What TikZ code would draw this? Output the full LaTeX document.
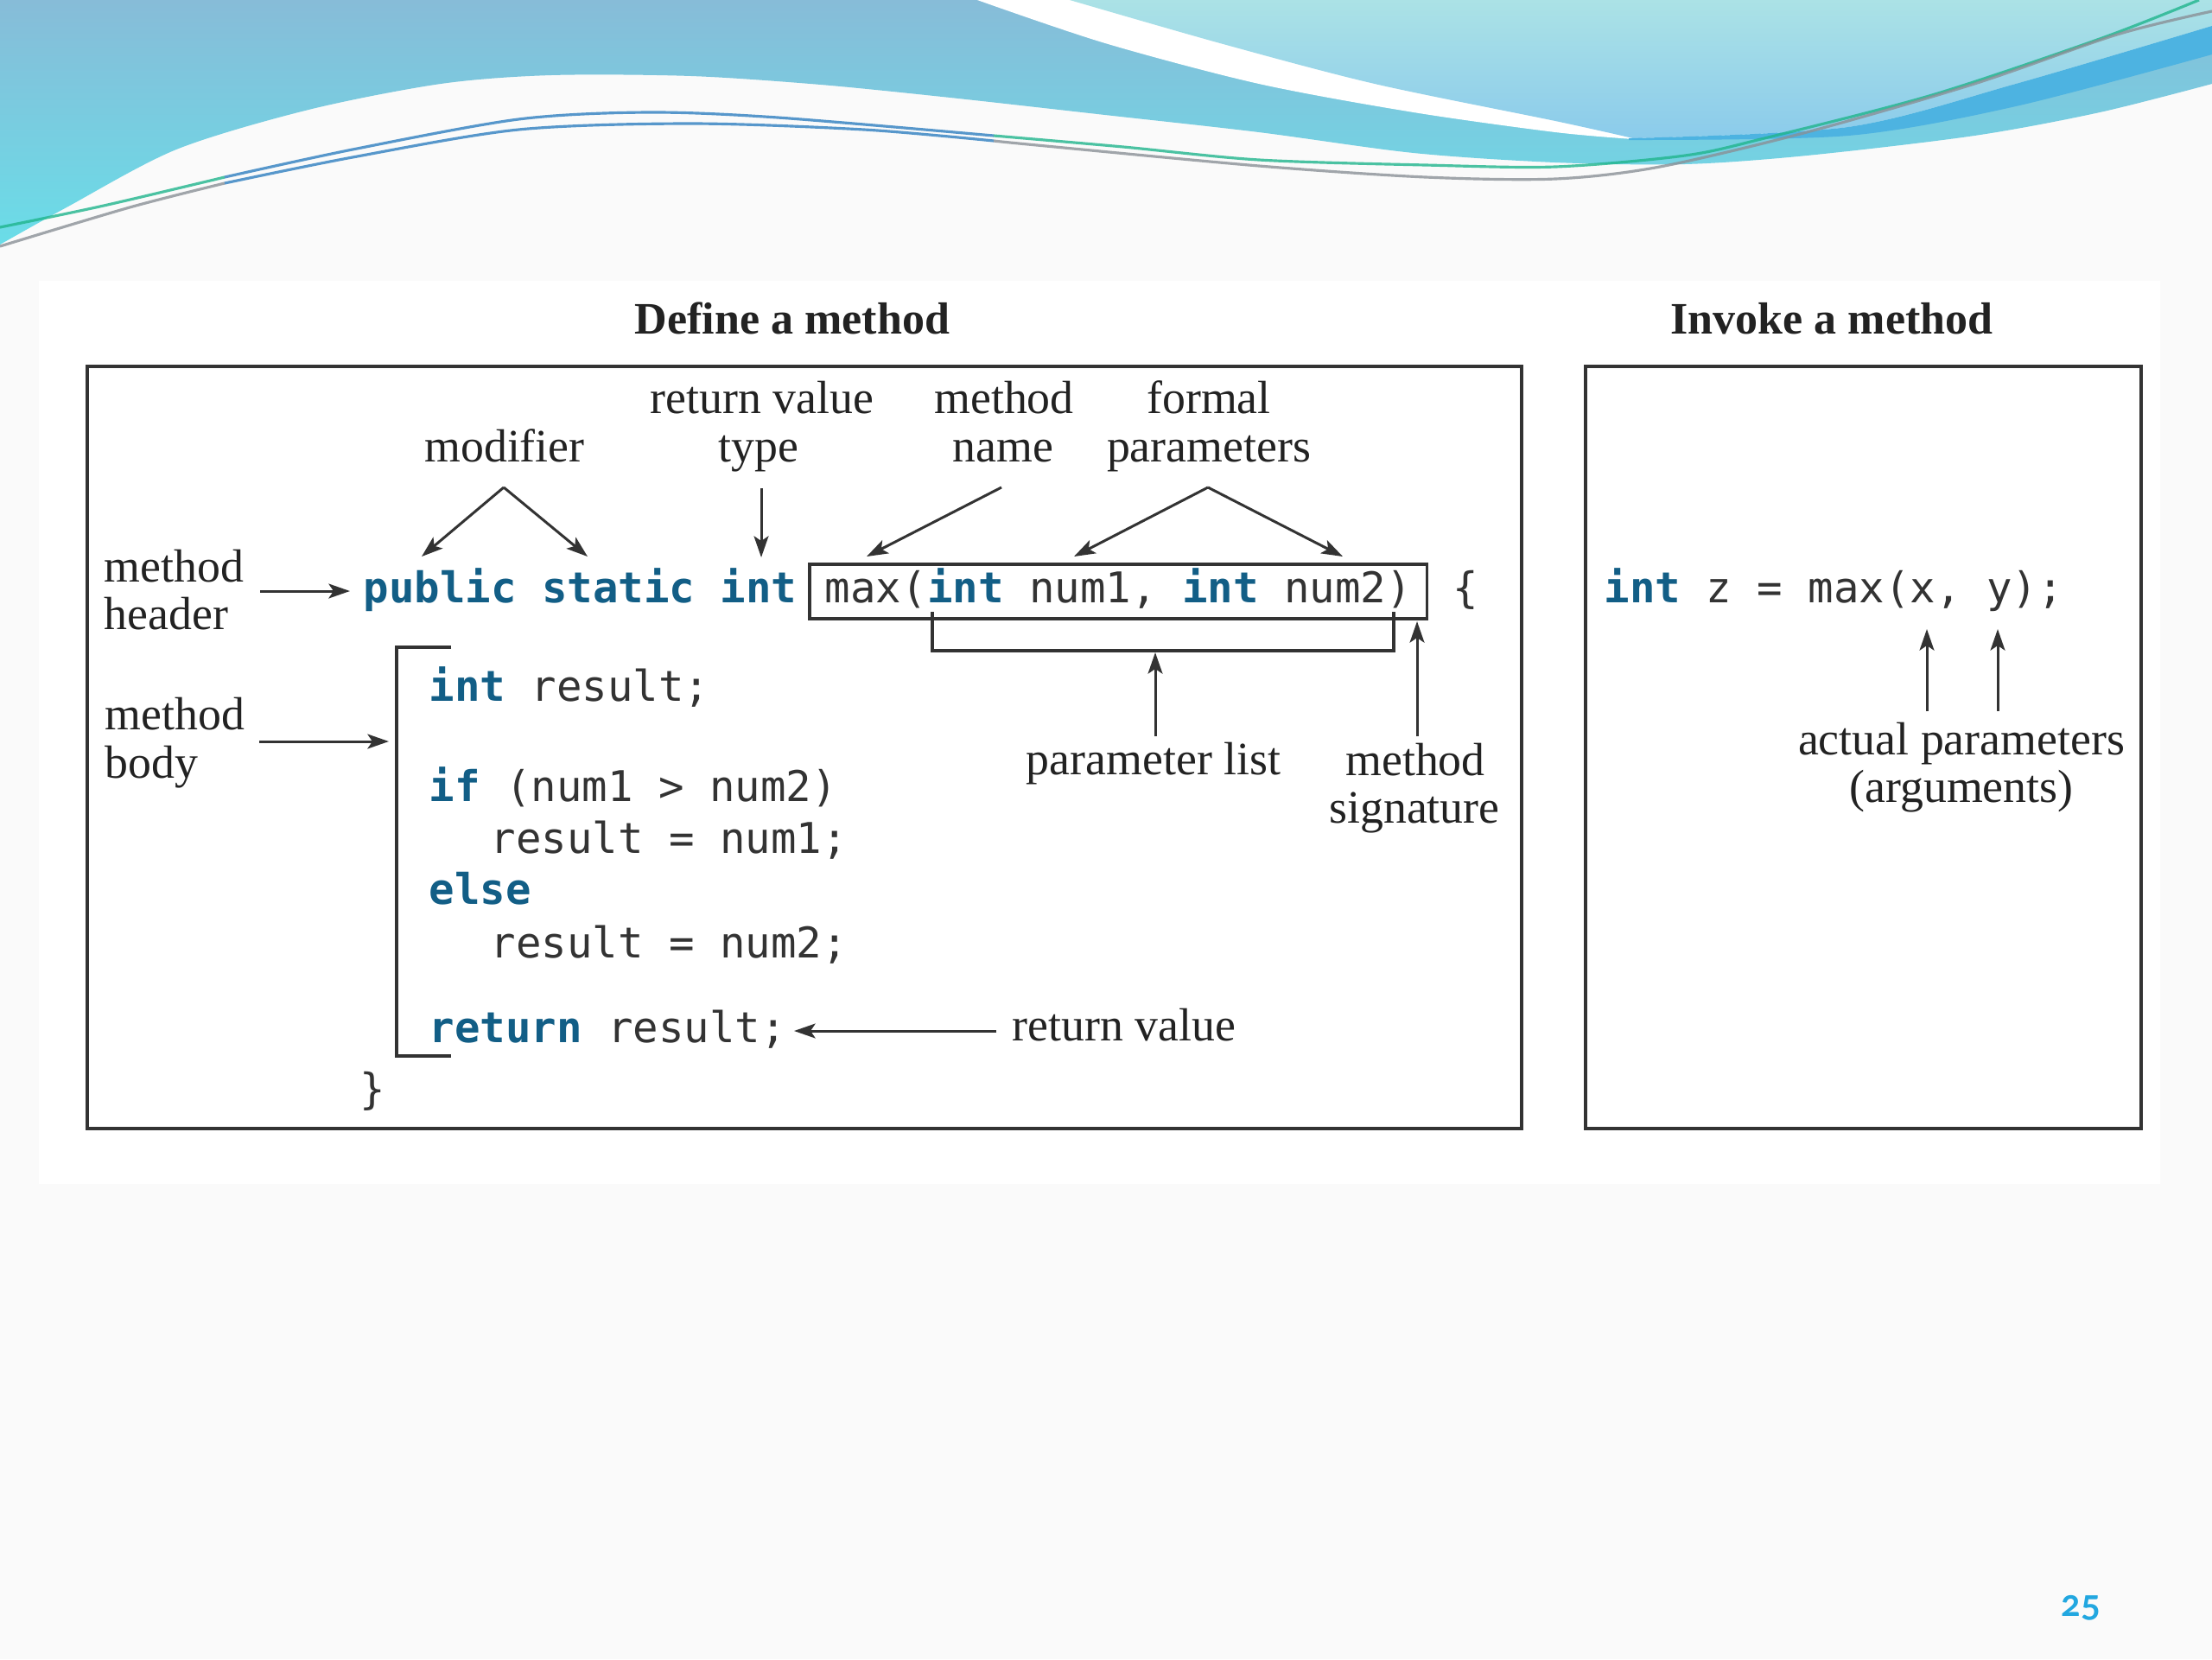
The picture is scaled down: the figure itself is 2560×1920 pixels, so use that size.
\documentclass[tikz,border=0pt]{standalone}
\usepackage{fontspec}
\setmainfont{Liberation Serif}
\newfontfamily\codefont{DejaVu Sans Mono}
\newfontfamily\numfont[Numbers=OldStyle]{Lato}
\usetikzlibrary{arrows.meta}
\definecolor{kw}{HTML}{125E86}
\definecolor{codec}{HTML}{333333}
\definecolor{labelc}{HTML}{222222}
\definecolor{boxc}{HTML}{333333}
\definecolor{bgc}{HTML}{FAFAFA}
\definecolor{tealtop}{HTML}{87BCD8}
\definecolor{tealbot}{HTML}{6ADDE8}
\definecolor{lighttop}{HTML}{ABE2E6}
\definecolor{lightbot}{HTML}{8BCBEB}
\definecolor{bandc}{HTML}{4DB3E1}
\definecolor{lineblue}{HTML}{2F7FC0}
\definecolor{linegreen}{HTML}{20B58C}
\definecolor{linegray}{HTML}{8A9096}
\definecolor{pagenum}{HTML}{22A7E0}
\newcommand\kwtext[1]{\textcolor{kw}{\bfseries #1}}
\begin{document}
\begin{tikzpicture}[x=0.01cm,y=-0.01cm,
  lbl/.style={font=\fontsize{15.3pt}{16pt}\selectfont, text=labelc, inner sep=0pt, anchor=base},
  lblw/.style={lbl, anchor=base west},
  ttl/.style={font=\fontsize{14.8pt}{16pt}\selectfont\bfseries, text=labelc, inner sep=0pt, anchor=base},
  codetext/.style={font=\codefont\fontsize{13.94pt}{15pt}\selectfont, text=codec, inner sep=0pt, anchor=base west},
  arr/.style={draw=boxc, line width=0.85pt, -{Stealth[length=7pt,width=4.8pt,inset=1.6pt]}},
  brk/.style={draw=boxc, line width=0.9pt},
  panelbox/.style={draw=boxc, line width=1.1pt},
  thin/.style={line width=0.9pt, opacity=0.8}
]
\useasboundingbox (0,0) rectangle (2560,1920);
% page background
\fill[bgc] (0,0) rectangle (2560,1920);
\fill[white] (45,325) rectangle (2500,1370);
% top decoration
\shade[top color=tealtop, bottom color=tealbot]
  (0,0) -- (2560,0) -- plot[smooth] coordinates {(2560,97) (2430,130) (2285,157) (2091,180) (1950,190) (1800,188) (1636,177) (1457,153) (1279,133) (1100,113) (950,98) (800,88) (638,87) (510,97) (357,127) (204,173) (77,240) (0,283)} -- cycle;
\fill[white] (1131,0) -- plot[smooth] coordinates {(1131,0) (1279,50) (1457,97) (1636,130) (1800,153) (1890,161)}
  -- plot[smooth] coordinates {(1890,161) (2139,147) (2333,97) (2560,30)} -- (2560,0) -- cycle;
\shade[top color=lighttop, bottom color=lightbot] (1238,0) -- plot[smooth] coordinates {(1238,0) (1412,50) (1591,97) (1800,140) (1890,160)}
  -- plot[smooth] coordinates {(1890,160) (2139,147) (2333,97) (2560,30)} -- (2560,0) -- cycle;
\fill[bandc] plot[smooth] coordinates {(1885,160) (2139,147) (2333,97) (2560,30)} -- (2560,63)
  -- plot[smooth] coordinates {(2560,63) (2333,123) (2139,157) (1885,162)} -- cycle;
% thin swoosh lines
\draw[thin, linegreen] plot[smooth] coordinates {(0,263) (120,238) (260,205)};
\draw[thin, lineblue] plot[smooth] coordinates {(260,205) (408,173) (600,138) (750,130) (900,136) (1150,157)};
\draw[thin, linegreen] plot[smooth] coordinates {(1150,157) (1300,170) (1457,185) (1650,191) (1800,193) (1950,180) (2042,160) (2236,110) (2430,45) (2545,0)};
\draw[thin, linegray] plot[smooth] coordinates {(0,285) (150,240) (260,212)};
\draw[thin, lineblue] plot[smooth] coordinates {(260,212) (408,182) (600,150) (800,143) (1000,150) (1150,163)};
\draw[thin, linegray] plot[smooth] coordinates {(1150,163) (1200,168) (1457,192) (1650,205) (1800,207) (1921,193) (2091,153) (2285,97) (2450,40) (2560,13)};
% frames
\draw[panelbox] (101,424) rectangle (1761,1306);
\draw[panelbox] (1835,424) rectangle (2478,1306);
% titles
\node[ttl] (t1) at (917,386) {Define a method};
\node[ttl] (t2) at (2120,386) {Invoke a method};
% labels
\node[lbl] (rv1) at (882,478) {return value};
\node[lbl] (rv2) at (878,534) {type};
\node[lbl] (mod) at (584,534) {modifier};
\node[lbl] (mn1) at (1162,478) {method};
\node[lbl] (mn2) at (1161,534) {name};
\node[lbl] (fp1) at (1399,478) {formal};
\node[lbl] (fp2) at (1399,534) {parameters};
\node[lblw] (mh1) at (120,673) {method};
\node[lblw] (mh2) at (120,728) {header};
\node[lblw] (mb1) at (121,844) {method};
\node[lblw] (mb2) at (121,900) {body};
\node[lbl] (pl) at (1335,896) {parameter list};
\node[lbl] (ms1) at (1638,897) {method};
\node[lbl] (ms2) at (1637,952) {signature};
\node[lbl] (rvl) at (1301,1204) {return value};
\node[lbl] (ap1) at (2270,873) {actual parameters};
\node[lbl] (ap2) at (2270,928) {(arguments)};
% code
\node[codetext] (hdr) at (420,697) {\kwtext{public static int}};
\node[codetext, draw=boxc, line width=0.9pt, inner xsep=5.1pt, inner ysep=2pt, text height=10.5pt, text depth=3.4pt, outer sep=0pt] (sig) at (937,697) {max(\kwtext{int} num1, \kwtext{int} num2)};
\node[codetext] (lb) at (1681,697) {\{};
\node[codetext] (c1) at (496,811) {\kwtext{int} result;};
\node[codetext] (c2) at (496,927) {\kwtext{if} (num1 > num2)};
\node[codetext] (c3) at (567,987) {result = num1;};
\node[codetext] (c4) at (496,1046) {\kwtext{else}};
\node[codetext] (c5) at (567,1108) {result = num2;};
\node[codetext] (c6) at (496,1206) {\kwtext{return} result;};
\node[codetext] (rb) at (416,1277) {\}};
\node[codetext] (inv) at (1856,697) {\kwtext{int} z = max(x, y);};
% arrow points
\coordinate (modA) at (583,564); \coordinate (modL) at (488,644); \coordinate (modR) at (680,644);
\coordinate (rvA) at (881,565); \coordinate (rvB) at (881,645);
\coordinate (mnA) at (1159,564); \coordinate (mnB) at (1003,644);
\coordinate (fpA) at (1398,564); \coordinate (fpL) at (1243,644); \coordinate (fpR) at (1554,644);
\coordinate (mhA) at (301,684); \coordinate (mhB) at (405,684);
\coordinate (mbA) at (300,858); \coordinate (mbB) at (450,858);
\coordinate (plA) at (1337,852); \coordinate (plB) at (1337,755);
\coordinate (msA) at (1640,852); \coordinate (msB) at (1640,719);
\coordinate (rtA) at (1153,1193); \coordinate (rtB) at (919,1193);
\coordinate (axA) at (2230,823); \coordinate (axB) at (2230,728);
\coordinate (ayA) at (2312,823); \coordinate (ayB) at (2312,728);
% arrows
\draw[arr] (modA) -- (modL);
\draw[arr] (modA) -- (modR);
\draw[arr] (rvA) -- (rvB);
\draw[arr] (mnA) -- (mnB);
\draw[arr] (fpA) -- (fpL);
\draw[arr] (fpA) -- (fpR);
\draw[arr] (mhA) -- (mhB);
\draw[arr] (mbA) -- (mbB);
\draw[arr] (plA) -- (plB);
\draw[arr] (msA) -- (msB);
\draw[arr] (rtA) -- (rtB);
\draw[arr] (axA) -- (axB);
\draw[arr] (ayA) -- (ayB);
% brackets
\coordinate (pbL) at (1079,708); \coordinate (pbR) at (1613,708);
\draw[brk] (pbL) -- (1079,753) -- (1613,753) -- (pbR);
\coordinate (bbT) at (522,749); \coordinate (bbB) at (522,1222);
\draw[brk] (bbT) -- (459,749) -- (459,1222) -- (bbB);
% page number
\node[font=\numfont\bfseries\fontsize{12pt}{14pt}\selectfont, text=pagenum, inner sep=0pt, anchor=base] (pn) at (2408,1870) {25};
\end{tikzpicture}
\end{document}
